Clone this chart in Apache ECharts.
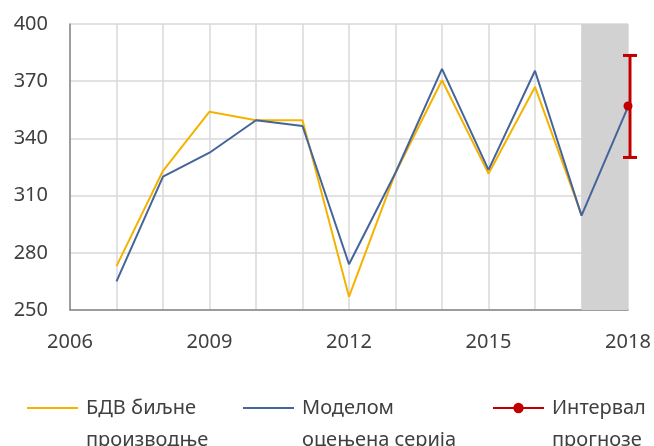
<!DOCTYPE html>
<html lang="sr">
  <head>
    <meta charset="UTF-8" />
    <title>БДВ биљне производње</title>
    <script src="https://cdn.jsdelivr.net/npm/echarts@6/dist/echarts.min.js"></script>
    <style>
      html, body { margin: 0; padding: 0; background: #fff; }
      #chart { width: 654px; height: 446px; }
    </style>
  </head>
  <body>
    <div id="chart"></div>
    <script>
      // подаци
      const years = [2007, 2008, 2009, 2010, 2011, 2012, 2013, 2014, 2015, 2016, 2017, 2018];
      const bdv = [273, 323, 354, 349.5, 349.5, 257, 322, 370.5, 321.5, 367, 300];
      const model = [265, 320, 332.5, 349.5, 346.5, 274, 322, 376.5, 323.5, 375.5, 299.5, 356.5];
      const interval = [2018, 330, 383.5, 357]; // година, доња, горња, прогноза
      const shadeFrom = 2017;
      const shadeTo = 2018;
      const names = ["БДВ биљне производње", "Моделом оцењена серија", "Интервал прогнозе"];
      const legendLines = {
        "БДВ биљне производње": ["БДВ биљне", "производње"],
        "Моделом оцењена серија": ["Моделом", "оцењена серија"],
        "Интервал прогнозе": ["Интервал", "прогнозе"],
      };

      const FONT = "Noto Sans";
      const TEXT = "#404040";
      const RED = "#C00000";
      const YELLOW = "#F5B300";
      const BLUE = "#44649A";

      const pairs = (vals) => vals.map((v, i) => [years[i], v]);

      // легенда: празан први ред да би икона стала уз први ред текста
      const legendFor = (name, left, icon, h) => ({
        data: [icon ? { name, icon } : name],
        left: left,
        top: 360,
        padding: 0,
        itemWidth: 51,
        itemHeight: h,
        itemGap: 0,
        selectedMode: false,
        formatter: (n) => " \n" + legendLines[n].join("\n"),
        textStyle: { fontFamily: FONT, fontSize: 20, color: TEXT, lineHeight: 32, padding: [0, 0, 0, 3] },
      });

      const option = {
        animation: false,
        backgroundColor: "#fff",
        grid: { left: 70, right: 26, top: 24, bottom: 136 },
        legend: [
          legendFor(names[0], 27, "rect", 2),
          legendFor(names[1], 243, "rect", 2),
          legendFor(names[2], 492, null, 13),
        ],
        xAxis: {
          type: "value",
          min: 2006,
          max: 2018,
          interval: 1,
          axisLine: { lineStyle: { color: "#868686", width: 1.5 } },
          axisTick: { show: false },
          axisLabel: {
            margin: 22,
            fontFamily: FONT,
            fontSize: 20,
            color: TEXT,
            formatter: (v) => ((v - 2006) % 3 === 0 ? String(v) : ""),
          },
          splitLine: { show: true, lineStyle: { color: "#d9d9d9", width: 1.5 } },
        },
        yAxis: {
          type: "value",
          min: 250,
          max: 400,
          interval: 30,
          axisLine: { show: true, lineStyle: { color: "#868686", width: 1.5 } },
          axisTick: { show: false },
          axisLabel: { margin: 22, fontFamily: FONT, fontSize: 20, color: TEXT },
          splitLine: { lineStyle: { color: "#d9d9d9", width: 1.5 } },
        },
        series: [
          {
            name: names[0],
            type: "line",
            data: pairs(bdv),
            symbol: "none",
            color: YELLOW,
            lineStyle: { width: 2, color: YELLOW },
            markArea: {
              silent: true,
              itemStyle: { color: "#d2d2d2" },
              data: [[{ xAxis: shadeFrom }, { xAxis: shadeTo }]],
            },
            z: 3,
          },
          {
            name: names[1],
            type: "line",
            data: pairs(model),
            symbol: "none",
            color: BLUE,
            lineStyle: { width: 2, color: BLUE },
            z: 4,
          },
          {
            type: "custom",
            data: [interval],
            color: RED,
            clip: false,
            z: 5,
            renderItem: (params, api) => {
              const top = api.coord([api.value(0), api.value(2)]);
              const bot = api.coord([api.value(0), api.value(1)]);
              const x = top[0] + 2;
              const style = { stroke: RED, lineWidth: 3 };
              return {
                type: "group",
                children: [
                  { type: "line", shape: { x1: x, y1: top[1], x2: x, y2: bot[1] }, style },
                  { type: "line", shape: { x1: x - 7, y1: top[1], x2: x + 7, y2: top[1] }, style },
                  { type: "line", shape: { x1: x - 7, y1: bot[1], x2: x + 7, y2: bot[1] }, style },
                ],
              };
            },
          },
          {
            name: names[2],
            type: "line",
            data: [[interval[0], interval[3]]],
            symbol: "circle",
            symbolSize: 9,
            color: RED,
            lineStyle: { width: 2, color: RED },
            itemStyle: { color: RED },
            clip: false,
            z: 6,
          },
        ],
      };

      const chart = echarts.init(document.getElementById("chart"));
      chart.setOption(option);
    </script>
  </body>
</html>
